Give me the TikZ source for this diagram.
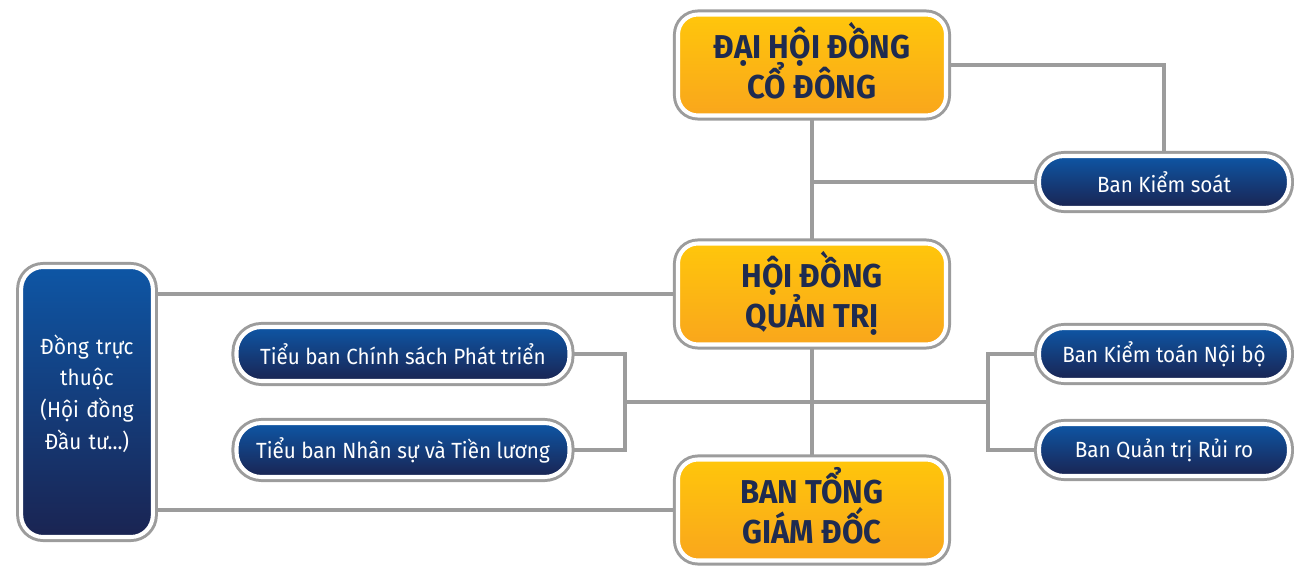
\documentclass[tikz,border=0pt]{standalone}
\usepackage{fontspec}
\setmainfont{Fira Sans}[FakeStretch=0.94]
\usepackage{tikz}
\usetikzlibrary{backgrounds}

\definecolor{linegray}{HTML}{9C9C9C}
\definecolor{navytext}{HTML}{1E2B50}
\definecolor{orangetop}{HTML}{FFC60B}
\definecolor{orangebot}{HTML}{F9A61C}
\definecolor{bluetop}{HTML}{0E56A5}
\definecolor{bluebot}{HTML}{1A2452}
\newcommand{\tightlines}{\lineskiplimit=-20pt\relax}

\tikzset{
  ring/.style={draw=white, line width=2.3pt,
    preaction={draw=linegray, line width=5.7pt}},
  mainbox/.style={ring, rounded corners=0.4cm, top color=orangetop, bottom color=orangebot,
    minimum width=5.36cm, minimum height=2.02cm, align=center, text=navytext, text depth=5pt,
    font=\bfseries\fontsize{18.8}{22.8}\selectfont\tightlines},
  subbox/.style={ring, rounded corners=0.5cm, top color=bluetop, bottom color=bluebot,
    minimum width=5.0cm, minimum height=1.04cm, align=center, text=white,
    font=\fontsize{12.5}{15}\selectfont},
  link/.style={draw=linegray, line width=2.3pt}
}

\begin{document}
\begin{tikzpicture}
                \useasboundingbox (0,0) rectangle (25.88,11.34);

                \node[mainbox] (dhdcd) at (16.24,10.04) {ĐẠI HỘI ĐỒNG\\CỔ ĐÔNG};
                \node[mainbox] (hdqt) at (16.24,5.46) {HỘI ĐỒNG\\QUẢN TRỊ};
                \node[mainbox] (btgd) at (16.24,1.14) {BAN TỔNG\\GIÁM ĐỐC};

                \node[subbox] (bks) at (23.28,7.70) {Ban Kiểm soát};
                \node[subbox] (bktnb) at (23.28,4.26) {Ban Kiểm toán Nội bộ};
                \node[subbox] (bqtrr) at (23.28,2.34) {Ban Quản trị Rủi ro};
                \node[subbox, minimum width=6.66cm, minimum height=1.08cm] (tbcs) at (8.06,4.26) {Tiểu ban Chính sách Phát triển};
                \node[subbox, minimum width=6.66cm, minimum height=1.08cm] (tbns) at (8.06,2.34) {Tiểu ban Nhân sự và Tiền lương};
                \node[subbox, rounded corners=0.44cm, minimum width=2.62cm, minimum height=5.4cm,
                      text width=2.4cm, text depth=65.5pt, font=\fontsize{12.5}{18}\selectfont] (dtt) at (1.74,3.30)
                      {Đồng trực\\thuộc\\(Hội đồng\\Đầu tư...)};

                \coordinate (jl) at (12.5,3.30);
                \coordinate (jr) at (19.76,3.30);

                \begin{scope}[on background layer]
                \draw[link] (dhdcd.east) -| (bks.north);
                \draw[link] (dhdcd.south) -- (hdqt.north);
                \draw[link] (dhdcd.south |- bks.west) -- (bks.west);
                \draw[link] (hdqt.south) -- (btgd.north);
                \draw[link] (jl) -- (jr);
                \draw[link] (tbcs.east) -| (jl) |- (tbns.east);
                \draw[link] (bktnb.west) -| (jr) |- (bqtrr.west);
                \draw[link] (dtt.east |- hdqt.west) -- (hdqt.west);
                \draw[link] (dtt.east |- btgd.west) -- (btgd.west);
                \end{scope}
\end{tikzpicture}
\end{document}
